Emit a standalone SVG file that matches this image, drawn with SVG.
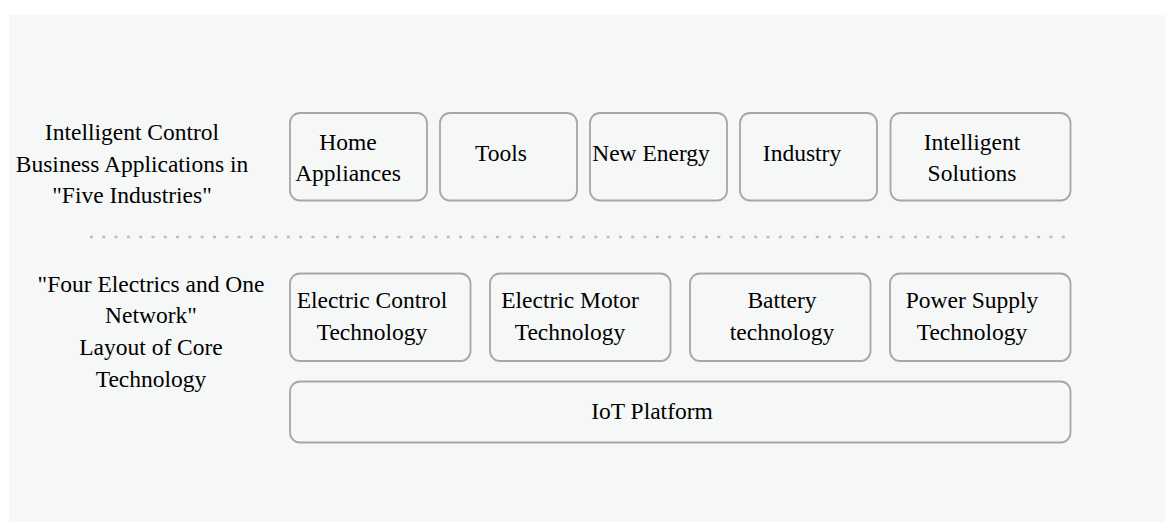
<svg xmlns="http://www.w3.org/2000/svg" width="1165" height="523" viewBox="0 0 1165 523">
<style>
.bg{fill:#f6f8f8}
.box{fill:#f6f8f8;stroke:#a6a6a6;stroke-width:1.8}
.t{font-family:"Liberation Serif","Times New Roman",serif;font-size:23.5px;fill:#000000;text-anchor:middle}
.dots{stroke:#bdbdbd;stroke-width:2.4;stroke-dasharray:3 9.3;fill:none}
</style>
<rect x="0" y="0" width="1165" height="523" fill="#ffffff"/>
<rect class="bg" x="9" y="15" width="1156" height="507"/>
<g id="label-top">
<text class="t" x="132" y="140">Intelligent Control</text>
<text class="t" x="132" y="172">Business Applications in</text>
<text class="t" x="132" y="203">"Five Industries"</text>
</g>
<g id="label-bottom">
<text class="t" x="151" y="292">"Four Electrics and One</text>
<text class="t" x="151" y="323">Network"</text>
<text class="t" x="151" y="355">Layout of Core</text>
<text class="t" x="151" y="387">Technology</text>
</g>
<g id="connectors">
<line class="dots" x1="90" y1="237" x2="1071" y2="237"/>
</g>
<g id="home-appliances">
<rect class="box" x="290" y="113" width="137" height="87.5" rx="10"/>
<text class="t" x="348" y="150">Home</text>
<text class="t" x="348" y="181">Appliances</text>
</g>
<g id="tools">
<rect class="box" x="440" y="113" width="137" height="87.5" rx="10"/>
<text class="t" x="501" y="161">Tools</text>
</g>
<g id="new-energy">
<rect class="box" x="590" y="113" width="137" height="87.5" rx="10"/>
<text class="t" x="651" y="161">New Energy</text>
</g>
<g id="industry">
<rect class="box" x="740" y="113" width="137" height="87.5" rx="10"/>
<text class="t" x="802" y="161">Industry</text>
</g>
<g id="intelligent-solutions">
<rect class="box" x="890.5" y="113" width="180" height="87.5" rx="10"/>
<text class="t" x="972" y="150">Intelligent</text>
<text class="t" x="972" y="181">Solutions</text>
</g>
<g id="electric-control">
<rect class="box" x="290" y="273.5" width="180.5" height="87.5" rx="10"/>
<text class="t" x="372" y="308">Electric Control</text>
<text class="t" x="372" y="340">Technology</text>
</g>
<g id="electric-motor">
<rect class="box" x="490" y="273.5" width="180.5" height="87.5" rx="10"/>
<text class="t" x="570" y="308">Electric Motor</text>
<text class="t" x="570" y="340">Technology</text>
</g>
<g id="battery">
<rect class="box" x="690" y="273.5" width="180.5" height="87.5" rx="10"/>
<text class="t" x="782" y="308">Battery</text>
<text class="t" x="782" y="340">technology</text>
</g>
<g id="power-supply">
<rect class="box" x="890" y="273.5" width="180.5" height="87.5" rx="10"/>
<text class="t" x="972" y="308">Power Supply</text>
<text class="t" x="972" y="340">Technology</text>
</g>
<g id="iot-platform">
<rect class="box" x="290" y="381.5" width="780.5" height="61" rx="10"/>
<text class="t" x="652" y="419">IoT Platform</text>
</g>
</svg>
